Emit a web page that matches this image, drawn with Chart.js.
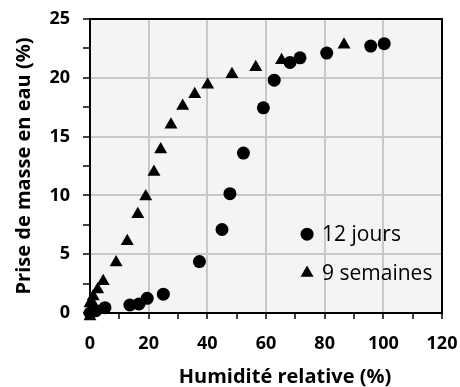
<!DOCTYPE html>
<html>
<head>
<meta charset="utf-8">
<script src="https://cdn.jsdelivr.net/npm/chart.js@4/dist/chart.umd.min.js"></script>
<style>
  body { margin: 0; background: #fff; }
  #cadre { width: 460px; height: 387px; }
</style>
</head>
<body>
<div id="cadre"><canvas id="masse" width="460" height="387"></canvas></div>
<script>
// données
var humidite12j = [0, 2, 5.1, 13.6, 16.7, 19.5, 25, 37.3, 45, 47.7, 52.3, 59.1, 62.8, 68.2, 71.6, 80.7, 95.7, 100.3];
var prise12j = [0, 0.2, 0.45, 0.68, 0.77, 1.25, 1.6, 4.37, 7.1, 10.15, 13.6, 17.45, 19.8, 21.3, 21.7, 22.1, 22.7, 22.9];

var humidite9s = [0, 0, 0, 0.5, 1.1, 2.6, 4.5, 8.9, 12.7, 16.3, 19.0, 21.8, 24.1, 27.6, 31.6, 35.7, 40.1, 48.4, 56.5, 65.3, 86.6];
var prise9s = [-0.3, 0.2, 0.8, 1.0, 1.4, 2.0, 2.7, 4.3, 6.1, 8.4, 9.9, 12.0, 13.9, 16.0, 17.6, 18.6, 19.4, 20.3, 20.9, 21.5, 22.8];

var etiquettes = ["12 jours", "9 semaines"];
var ticksX = [0, 20, 40, 60, 80, 100, 120];
var ticksY = [0, 5, 10, 15, 20, 25];

var police = "'Open Sans'";

function points(xs, ys) {
    return xs.map(function (x, i) { return { x: x, y: ys[i] }; });
}

function marqueur(ctx, style, x, y) {
    ctx.beginPath();
    if (style === "triangle") {
        var r = 7.5;
        ctx.moveTo(x, y - r);
        ctx.lineTo(x + r * Math.sin(2 * Math.PI / 3), y - r * Math.cos(2 * Math.PI / 3));
        ctx.lineTo(x + r * Math.sin(4 * Math.PI / 3), y - r * Math.cos(4 * Math.PI / 3));
        ctx.closePath();
    } else {
        ctx.arc(x, y, 6.5, 0, 2 * Math.PI);
    }
    ctx.fill();
}

/* fond gris + cadre noir autour de la zone du graphe */
var fondCadre = {
    id: "fondCadre",
    beforeDraw: function (chart) {
        var a = chart.chartArea, ctx = chart.ctx;
        ctx.save();
        ctx.fillStyle = "#f4f4f4";
        ctx.fillRect(a.left, a.top, a.right - a.left, a.bottom - a.top);
        ctx.restore();
    },
    afterDraw: function (chart) {
        var a = chart.chartArea, ctx = chart.ctx;
        ctx.save();
        ctx.strokeStyle = "#000";
        ctx.lineWidth = 2;
        ctx.beginPath();
        ctx.moveTo(a.left, a.top);
        ctx.lineTo(a.right, a.top);
        ctx.lineTo(a.right, a.bottom);
        ctx.stroke();
        // titre de l'axe x (décalé comme dans Excel)
        ctx.fillStyle = "#000";
        ctx.font = "bold 20px " + police;
        ctx.textAlign = "center";
        ctx.textBaseline = "alphabetic";
        ctx.fillText("Humidité relative (%)", (a.left + a.right) / 2 + 19, 383);
        ctx.restore();
    }
};

/* légende dans la zone du graphe */
var legende = {
    id: "legende",
    afterDatasetsDraw: function (chart) {
        var ctx = chart.ctx;
        var sx = chart.scales.x, sy = chart.scales.y;
        var ys = [6.7, 3.4];
        ctx.save();
        chart.data.datasets.forEach(function (ds, i) {
            var px = sx.getPixelForValue(74);
            var py = sy.getPixelForValue(ys[i]);
            ctx.fillStyle = "#000";
            marqueur(ctx, ds.pointStyle, px, py);
            ctx.font = "21px " + police;
            ctx.textAlign = "left";
            ctx.textBaseline = "middle";
            ctx.fillText(ds.label, px + 15, py + 1);
        });
        ctx.restore();
    }
};

var config = {
    type: "scatter",
    data: {
        datasets: [{
            label: etiquettes[0],
            data: points(humidite12j, prise12j),
            pointStyle: "circle",
            pointRadius: 6.5,
            pointBorderWidth: 0,
            backgroundColor: "#000",
            borderColor: "#000",
            clip: false
        }, {
            label: etiquettes[1],
            data: points(humidite9s, prise9s),
            pointStyle: "triangle",
            pointRadius: 7.5,
            pointBorderWidth: 0,
            backgroundColor: "#000",
            borderColor: "#000",
            clip: false
        }]
    },
    options: {
        responsive: false,
        animation: false,
        layout: { padding: { left: 0, top: 19, right: 18, bottom: 0 } },
        plugins: {
            legend: { display: false },
            tooltip: { enabled: false }
        },
        scales: {
            x: {
                type: "linear",
                min: 0,
                max: 120,
                afterFit: function (s) {
                    s.height = 74;
                    s.paddingLeft = 0;
                    s.paddingRight = 0;
                },
                border: { color: "#000", width: 2 },
                grid: {
                    color: function (c) { return ticksX.indexOf(c.tick.value) >= 0 ? "#c8c8c8" : "rgba(0,0,0,0)"; },
                    lineWidth: 2,
                    tickColor: "#000",
                    tickWidth: 1.5,
                    tickLength: 6
                },
                ticks: {
                    stepSize: 10,
                    padding: 14,
                    color: "#000",
                    font: { family: police, size: 18, weight: "bold" },
                    maxRotation: 0,
                    autoSkip: false,
                    callback: function (v) { return ticksX.indexOf(v) >= 0 ? v : ""; }
                }
            },
            y: {
                type: "linear",
                min: 0,
                max: 25,
                afterFit: function (s) {
                    s.width = 90;
                    s.paddingTop = 0;
                    s.paddingBottom = 0;
                },
                border: { color: "#000", width: 2 },
                grid: {
                    color: function (c) { return ticksY.indexOf(c.tick.value) >= 0 ? "#c8c8c8" : "rgba(0,0,0,0)"; },
                    lineWidth: 2,
                    tickColor: "#000",
                    tickWidth: 1.5,
                    tickLength: 7
                },
                ticks: {
                    stepSize: 2.5,
                    padding: 13,
                    color: "#000",
                    font: { family: police, size: 18, weight: "bold" },
                    autoSkip: false,
                    callback: function (v) { return ticksY.indexOf(v) >= 0 ? v : ""; }
                },
                title: {
                    display: true,
                    text: "Prise de masse en eau (%)",
                    color: "#000",
                    font: { family: police, size: 20, weight: "bold" },
                    padding: { top: 12, bottom: 0 }
                }
            }
        }
    },
    plugins: [fondCadre, legende]
};

new Chart(document.getElementById("masse").getContext("2d"), config);
</script>
</body>
</html>
